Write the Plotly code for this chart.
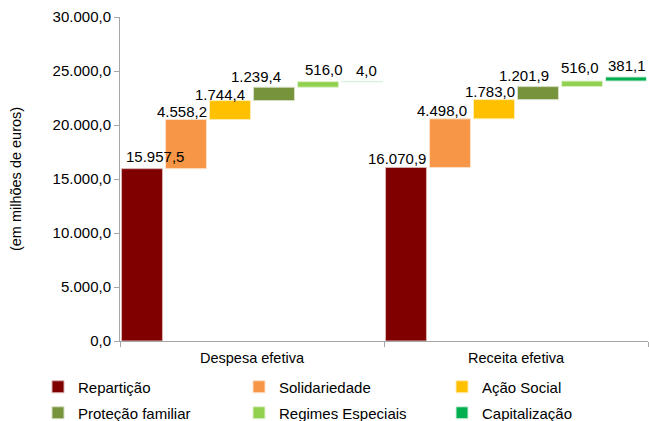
import plotly.graph_objects as go

# Categories and component values (em milhões de euros)
categorias = ["Despesa efetiva", "Receita efetiva"]
componentes = ["Repartição", "Solidariedade", "Ação Social",
               "Proteção familiar", "Regimes Especiais", "Capitalização"]
despesa = [15957.5, 4558.2, 1744.4, 1239.4, 516.0, 4.0]
receita = [16070.9, 4498.0, 1783.0, 1201.9, 516.0, 381.1]

cores = ["#800000", "#F79646", "#FFC000", "#77933C", "#92D050", "#00B050"]
contornos = ["#D9B3B3", "#FDE0C8", "#FFEBB3", "#D6DFC5", "#DEF1CB", "#D6F0E0"]

# small nudges (px) for the value labels, per category then per component
rotulo_dx = [[13, -4, -10, -18, 6, 4], [-9, -8, -4, -14, -2, 1]]
rotulo_dy = [[2, -3, -4, 0, 2, 1], [-2, -2, -2, 1, 3, 1]]

# legend grid: 3 columns x 2 rows, one legend box per component
legenda_col_x = [38, 239, 442]   # px from the left edge of the figure
legenda_lin_y = [387, 413]       # px from the top edge of the figure


def acumulado(valores):
    bases, total = [], 0.0
    for v in valores:
        bases.append(total)
        total += v
    return bases


bases = [acumulado(despesa), acumulado(receita)]
valores = [despesa, receita]


def fmt(v):
    s = f"{v:,.1f}"
    return s.replace(",", "X").replace(".", ",").replace("X", ".")


W, H = 649, 421
n = len(componentes)
fig = go.Figure()
legendas = {}
anotacoes = []
for i, nome in enumerate(componentes):
    vals = [despesa[i], receita[i]]
    lid = "legend" if i == 0 else f"legend{i + 1}"
    fig.add_trace(go.Bar(
        name=nome,
        x=categorias,
        y=vals,
        base=[bases[0][i], bases[1][i]],
        marker=dict(color=cores[i], line=dict(color=contornos[i], width=1)),
        legend=lid,
    ))
    legendas[lid] = dict(
        orientation="h", xref="container", yref="container",
        x=legenda_col_x[i % 3] / W, xanchor="left",
        y=1 - legenda_lin_y[i // 3] / H, yanchor="middle",
        itemwidth=30,
        font=dict(size=15, color="#000000"),
        bgcolor="rgba(0,0,0,0)",
    )
    # value label above each bar (grouped bars: slot i of n inside each category)
    for c in range(len(categorias)):
        anotacoes.append(dict(
            x=c - 0.5 + (i + 0.5) / n, xref="x",
            y=bases[c][i] + valores[c][i], yref="y",
            text=fmt(valores[c][i]), showarrow=False,
            xanchor="center", yanchor="bottom",
            xshift=rotulo_dx[c][i], yshift=rotulo_dy[c][i],
            font=dict(size=15, color="#000000"),
        ))

fig.update_layout(
    width=W, height=H,
    margin=dict(l=120, r=1, t=17, b=80),
    paper_bgcolor="white", plot_bgcolor="white",
    barmode="group", bargap=0, bargroupgap=0.07,
    separators=",.",
    font=dict(family="Liberation Sans, Arial, sans-serif", size=14, color="#000000"),
    showlegend=True,
    annotations=anotacoes,
    yaxis=dict(
        range=[0, 30000], dtick=5000, tickformat=",.1f",
        showgrid=False, zeroline=False,
        showline=True, linecolor="#A6A6A6", linewidth=1,
        ticks="outside", ticklen=5, tickcolor="#A6A6A6",
        tickfont=dict(size=15),
        title=dict(text="(em milhões de euros)", font=dict(size=14.5), standoff=27),
    ),
    xaxis=dict(
        range=[-0.5, 1.5],
        showline=True, linecolor="#A6A6A6", linewidth=1,
        ticks="outside", ticklen=5, tickcolor="#A6A6A6",
        tickson="boundaries", showgrid=False,
        tickfont=dict(size=14.5), ticklabelstandoff=4,
    ),
    **legendas,
)

fig.write_html("out.html")
